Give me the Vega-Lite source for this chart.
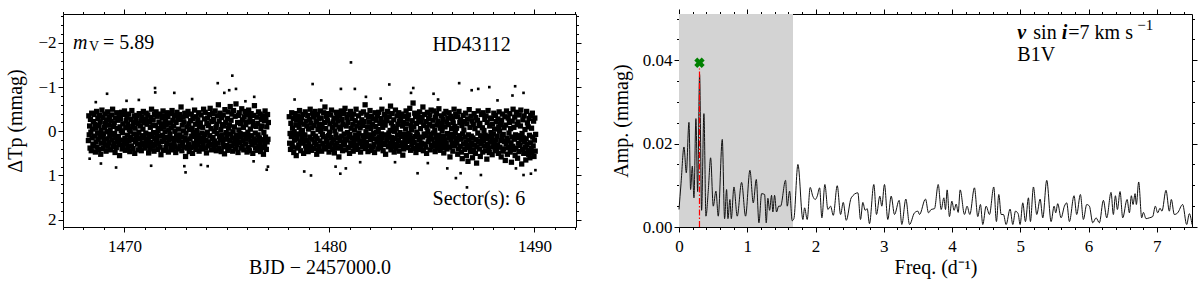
{
"$schema": "https://vega.github.io/schema/vega-lite/v6.json",
"padding": {"left": 5, "top": 6, "right": 4, "bottom": 5},
"bounds": "flush",
"spacing": 103,
"config": {
  "view": {"stroke": "black", "strokeWidth": 1},
  "axis": {"domain": false, "grid": false, "labelFont": "Liberation Serif", "labelFontSize": 17, "labelColor": "black", "tickColor": "black", "tickWidth": 1, "titleFont": "Liberation Serif", "titleFontSize": 20, "titleFontWeight": "normal", "titleColor": "black", "labelPadding": 2, "labelFlush": false, "labelOverlap": false},
  "text": {"font": "Liberation Serif", "color": "black"}
},
"hconcat": [
{
  "width": 513, "height": 213,
  "layer": [
    {
      "data": {"values": [
{"t":1468.24,"m":0.21},{"t":1468.26,"m":-0.35},{"t":1468.28,"m":0.08},
{"t":1468.3,"m":-0.12},{"t":1468.32,"m":0.38},{"t":1468.34,"m":-0.27},{"t":1468.36,"m":0.02},{"t":1468.38,"m":0.44},
{"t":1468.4,"m":-0.41},{"t":1468.42,"m":0.15},{"t":1468.44,"m":-0.05},{"t":1468.46,"m":0.29},{"t":1468.48,"m":-0.22},
{"t":1468.5,"m":0.33},{"t":1468.52,"m":-0.38},{"t":1468.54,"m":0.11},{"t":1468.56,"m":-0.16},{"t":1468.58,"m":0.47},
{"t":1468.6,"m":-0.07},{"t":1468.62,"m":0.24},{"t":1468.64,"m":-0.45},{"t":1468.66,"m":0.36},{"t":1468.68,"m":0.04},
{"t":1468.7,"m":-0.29},{"t":1468.72,"m":0.18},{"t":1468.74,"m":0.41},{"t":1468.76,"m":-0.13},{"t":1468.78,"m":-0.36},
{"t":1468.8,"m":0.09},{"t":1468.82,"m":-0.21},{"t":1468.84,"m":0.52},{"t":1468.86,"m":-0.02},{"t":1468.88,"m":0.27},
{"t":1468.9,"m":-0.48},{"t":1468.92,"m":0.13},{"t":1468.94,"m":-0.31},{"t":1468.96,"m":0.39},{"t":1468.98,"m":0.06},
{"t":1469.0,"m":0.22},{"t":1469.02,"m":-0.09},{"t":1469.04,"m":-0.39},{"t":1469.06,"m":0.31},{"t":1469.08,"m":-0.18},
{"t":1469.1,"m":0.45},{"t":1469.12,"m":-0.26},{"t":1469.14,"m":0.01},{"t":1469.16,"m":0.17},{"t":1469.18,"m":-0.44},
{"t":1469.2,"m":0.34},{"t":1469.22,"m":-0.14},{"t":1469.24,"m":0.26},{"t":1469.26,"m":-0.33},{"t":1469.28,"m":0.1},
{"t":1469.3,"m":-0.03},{"t":1469.32,"m":0.42},{"t":1469.34,"m":-0.23},{"t":1469.36,"m":0.07},{"t":1469.38,"m":-0.37},
{"t":1469.4,"m":0.19},{"t":1469.42,"m":-0.5},{"t":1469.44,"m":0.35},{"t":1469.46,"m":-0.11},{"t":1469.48,"m":0.28},
{"t":1469.5,"m":-0.19},{"t":1469.52,"m":0.05},{"t":1469.54,"m":0.48},{"t":1469.56,"m":-0.3},{"t":1469.58,"m":0.14},
{"t":1469.6,"m":0.37},{"t":1469.62,"m":-0.42},{"t":1469.64,"m":-0.06},{"t":1469.66,"m":0.23},{"t":1469.68,"m":-0.25},
{"t":1469.7,"m":0.12},{"t":1469.72,"m":0.3},{"t":1469.74,"m":-0.34},{"t":1469.76,"m":0.55},{"t":1469.78,"m":-0.1},
{"t":1469.8,"m":-0.28},{"t":1469.82,"m":0.2},{"t":1469.84,"m":-0.01},{"t":1469.86,"m":-0.43},{"t":1469.88,"m":0.4},
{"t":1469.9,"m":0.03},{"t":1469.92,"m":-0.17},{"t":1469.94,"m":0.32},{"t":1469.96,"m":-0.38},{"t":1469.98,"m":0.25},
{"t":1470.0,"m":-0.46},{"t":1470.02,"m":0.16},{"t":1470.04,"m":0.43},{"t":1470.06,"m":-0.08},{"t":1470.08,"m":-0.24},
{"t":1470.1,"m":0.28},{"t":1470.12,"m":-0.32},{"t":1470.14,"m":0.09},{"t":1470.16,"m":-0.15},{"t":1470.18,"m":0.36},
{"t":1470.2,"m":-0.39},{"t":1470.22,"m":0.21},{"t":1470.24,"m":-0.04},{"t":1470.26,"m":0.46},{"t":1470.28,"m":0.0},
{"t":1470.3,"m":0.13},{"t":1470.32,"m":-0.27},{"t":1470.34,"m":0.33},{"t":1470.36,"m":-0.47},{"t":1470.38,"m":0.19},
{"t":1470.4,"m":-0.11},{"t":1470.42,"m":0.39},{"t":1470.44,"m":-0.2},{"t":1470.46,"m":0.06},{"t":1470.48,"m":-0.35},
{"t":1470.5,"m":0.5},{"t":1470.52,"m":-0.07},{"t":1470.54,"m":0.24},{"t":1470.56,"m":-0.29},{"t":1470.58,"m":0.15},
{"t":1470.6,"m":-0.36},{"t":1470.62,"m":0.08},{"t":1470.64,"m":0.29},{"t":1470.66,"m":-0.18},{"t":1470.68,"m":0.42},
{"t":1470.7,"m":0.02},{"t":1470.72,"m":-0.4},{"t":1470.74,"m":0.17},{"t":1470.76,"m":0.35},{"t":1470.78,"m":-0.12},
{"t":1470.8,"m":-0.23},{"t":1470.82,"m":0.44},{"t":1470.84,"m":-0.33},{"t":1470.86,"m":0.1},{"t":1470.88,"m":0.26},
{"t":1470.9,"m":-0.05},{"t":1470.92,"m":-0.45},{"t":1470.94,"m":0.31},{"t":1470.96,"m":0.14},{"t":1470.98,"m":-0.19},
{"t":1471.0,"m":0.38},{"t":1471.02,"m":-0.28},{"t":1471.04,"m":0.04},{"t":1471.06,"m":-0.41},{"t":1471.08,"m":0.22},
{"t":1471.1,"m":-0.16},{"t":1471.12,"m":0.32},{"t":1471.14,"m":-0.37},{"t":1471.16,"m":0.18},{"t":1471.18,"m":0.49},
{"t":1471.2,"m":0.07},{"t":1471.22,"m":-0.22},{"t":1471.24,"m":0.4},{"t":1471.26,"m":-0.09},{"t":1471.28,"m":-0.31},
{"t":1471.3,"m":0.25},{"t":1471.32,"m":-0.5},{"t":1471.34,"m":0.12},{"t":1471.36,"m":0.34},{"t":1471.38,"m":-0.14},
{"t":1471.4,"m":-0.26},{"t":1471.42,"m":0.03},{"t":1471.44,"m":0.45},{"t":1471.46,"m":-0.38},{"t":1471.48,"m":0.16},
{"t":1471.5,"m":0.3},{"t":1471.52,"m":-0.13},{"t":1471.54,"m":-0.44},{"t":1471.56,"m":0.21},{"t":1471.58,"m":0.05},
{"t":1471.6,"m":-0.34},{"t":1471.62,"m":0.41},{"t":1471.64,"m":-0.02},{"t":1471.66,"m":0.27},{"t":1471.68,"m":-0.21},
{"t":1471.7,"m":0.11},{"t":1471.72,"m":-0.39},{"t":1471.74,"m":0.36},{"t":1471.76,"m":-0.06},{"t":1471.78,"m":0.53},
{"t":1471.8,"m":-0.17},{"t":1471.82,"m":0.23},{"t":1471.84,"m":-0.3},{"t":1471.86,"m":0.09},{"t":1471.88,"m":-0.46},
{"t":1471.9,"m":0.43},{"t":1471.92,"m":-0.1},{"t":1471.94,"m":0.19},{"t":1471.96,"m":-0.35},{"t":1471.98,"m":0.01},
{"t":1472.0,"m":-0.24},{"t":1472.02,"m":0.37},{"t":1472.04,"m":-0.15},{"t":1472.06,"m":0.28},{"t":1472.08,"m":-0.42},
{"t":1472.1,"m":0.14},{"t":1472.12,"m":-0.33},{"t":1472.14,"m":0.47},{"t":1472.16,"m":-0.03},{"t":1472.18,"m":0.2},
{"t":1472.2,"m":-0.4},{"t":1472.22,"m":0.06},{"t":1472.24,"m":-0.19},{"t":1472.26,"m":0.39},{"t":1472.28,"m":-0.08},
{"t":1472.3,"m":0.31},{"t":1472.32,"m":-0.47},{"t":1472.34,"m":0.16},{"t":1472.36,"m":-0.25},{"t":1472.38,"m":0.42},
{"t":1472.4,"m":-0.12},{"t":1472.42,"m":0.26},{"t":1472.44,"m":-0.36},{"t":1472.46,"m":0.0},{"t":1472.48,"m":0.35},
{"t":1472.5,"m":0.48},{"t":1472.52,"m":-0.2},{"t":1472.54,"m":0.1},{"t":1472.56,"m":-0.43},{"t":1472.58,"m":0.18},
{"t":1472.6,"m":-0.3},{"t":1472.62,"m":0.4},{"t":1472.64,"m":-0.05},{"t":1472.66,"m":0.22},{"t":1472.68,"m":-0.38},
{"t":1472.7,"m":0.08},{"t":1472.72,"m":-0.27},{"t":1472.74,"m":0.33},{"t":1472.76,"m":-0.55},{"t":1472.78,"m":0.13},
{"t":1472.8,"m":0.44},{"t":1472.82,"m":-0.14},{"t":1472.84,"m":0.25},{"t":1472.86,"m":-0.32},{"t":1472.88,"m":-0.01},
{"t":1472.9,"m":-0.21},{"t":1472.92,"m":0.36},{"t":1472.94,"m":-0.41},{"t":1472.96,"m":0.15},{"t":1472.98,"m":0.57},
{"t":1473.0,"m":0.04},{"t":1473.02,"m":-0.35},{"t":1473.04,"m":0.2},{"t":1473.06,"m":-0.1},{"t":1473.08,"m":0.38},
{"t":1473.1,"m":-0.45},{"t":1473.12,"m":0.29},{"t":1473.14,"m":-0.17},{"t":1473.16,"m":0.46},{"t":1473.18,"m":-0.04},
{"t":1473.2,"m":0.17},{"t":1473.22,"m":-0.24},{"t":1473.24,"m":0.37},{"t":1473.26,"m":-0.39},{"t":1473.28,"m":0.11},
{"t":1473.3,"m":-0.07},{"t":1473.32,"m":0.5},{"t":1473.34,"m":-0.29},{"t":1473.36,"m":0.03},{"t":1473.38,"m":0.27},
{"t":1473.4,"m":0.34},{"t":1473.42,"m":-0.48},{"t":1473.44,"m":0.12},{"t":1473.46,"m":-0.16},{"t":1473.48,"m":0.41},
{"t":1473.5,"m":-0.33},{"t":1473.52,"m":0.19},{"t":1473.54,"m":-0.02},{"t":1473.56,"m":0.3},{"t":1473.58,"m":-0.26},
{"t":1473.6,"m":0.09},{"t":1473.62,"m":-0.42},{"t":1473.64,"m":0.45},{"t":1473.66,"m":-0.11},{"t":1473.68,"m":0.23},
{"t":1473.7,"m":-0.19},{"t":1473.72,"m":0.35},{"t":1473.74,"m":-0.37},{"t":1473.76,"m":0.16},{"t":1473.78,"m":0.04},
{"t":1473.8,"m":0.4},{"t":1473.82,"m":-0.09},{"t":1473.84,"m":0.28},{"t":1473.86,"m":-0.5},{"t":1473.88,"m":0.14},
{"t":1473.9,"m":-0.28},{"t":1473.92,"m":0.07},{"t":1473.94,"m":-0.43},{"t":1473.96,"m":0.38},{"t":1473.98,"m":0.21},
{"t":1474.0,"m":0.49},{"t":1474.02,"m":-0.18},{"t":1474.04,"m":0.02},{"t":1474.06,"m":-0.3},{"t":1474.08,"m":0.33},
{"t":1474.1,"m":-0.13},{"t":1474.12,"m":0.24},{"t":1474.14,"m":-0.38},{"t":1474.16,"m":0.1},{"t":1474.18,"m":-0.52},
{"t":1474.2,"m":0.3},{"t":1474.22,"m":-0.06},{"t":1474.24,"m":0.42},{"t":1474.26,"m":-0.22},{"t":1474.28,"m":0.17},
{"t":1474.3,"m":-0.4},{"t":1474.32,"m":0.14},{"t":1474.34,"m":-0.27},{"t":1474.36,"m":0.36},{"t":1474.38,"m":0.0},
{"t":1474.4,"m":0.22},{"t":1474.42,"m":-0.46},{"t":1474.44,"m":0.31},{"t":1474.46,"m":-0.08},{"t":1474.48,"m":0.44},
{"t":1474.5,"m":-0.16},{"t":1474.52,"m":0.05},{"t":1474.54,"m":-0.35},{"t":1474.56,"m":0.27},{"t":1474.58,"m":-0.6},
{"t":1474.6,"m":0.39},{"t":1474.62,"m":-0.23},{"t":1474.64,"m":0.12},{"t":1474.66,"m":-0.41},{"t":1474.68,"m":0.19},
{"t":1474.7,"m":-0.04},{"t":1474.72,"m":0.46},{"t":1474.74,"m":-0.31},{"t":1474.76,"m":0.08},{"t":1474.78,"m":-0.15},
{"t":1474.8,"m":0.26},{"t":1474.82,"m":-0.37},{"t":1474.84,"m":0.35},{"t":1474.86,"m":-0.12},{"t":1474.88,"m":0.51},
{"t":1474.9,"m":-0.49},{"t":1474.92,"m":0.18},{"t":1474.94,"m":-0.2},{"t":1474.96,"m":0.03},{"t":1474.98,"m":0.32},
{"t":1475.0,"m":0.11},{"t":1475.02,"m":-0.29},{"t":1475.04,"m":0.43},{"t":1475.06,"m":-0.44},{"t":1475.08,"m":-0.07},
{"t":1475.1,"m":0.37},{"t":1475.12,"m":-0.14},{"t":1475.14,"m":0.21},{"t":1475.16,"m":-0.56},{"t":1475.18,"m":0.06},
{"t":1475.2,"m":-0.25},{"t":1475.22,"m":0.33},{"t":1475.24,"m":-0.39},{"t":1475.26,"m":0.15},{"t":1475.28,"m":0.45},
{"t":1475.3,"m":0.01},{"t":1475.32,"m":-0.47},{"t":1475.34,"m":0.28},{"t":1475.36,"m":-0.1},{"t":1475.38,"m":0.2},
{"t":1475.4,"m":-0.34},{"t":1475.42,"m":0.4},{"t":1475.44,"m":-0.62},{"t":1475.46,"m":0.09},{"t":1475.48,"m":0.3},
{"t":1475.5,"m":0.16},{"t":1475.52,"m":-0.2},{"t":1475.54,"m":0.48},{"t":1475.56,"m":-0.36},{"t":1475.58,"m":-0.03},
{"t":1475.6,"m":-0.42},{"t":1475.62,"m":0.25},{"t":1475.64,"m":0.05},{"t":1475.66,"m":-0.17},{"t":1475.68,"m":0.38},
{"t":1475.7,"m":0.13},{"t":1475.72,"m":-0.51},{"t":1475.74,"m":0.34},{"t":1475.76,"m":-0.26},{"t":1475.78,"m":0.22},
{"t":1475.8,"m":-0.09},{"t":1475.82,"m":0.42},{"t":1475.84,"m":-0.33},{"t":1475.86,"m":0.07},{"t":1475.88,"m":-0.45},
{"t":1475.9,"m":0.29},{"t":1475.92,"m":-0.15},{"t":1475.94,"m":0.18},{"t":1475.96,"m":-0.38},{"t":1475.98,"m":0.47},
{"t":1476.0,"m":-0.21},{"t":1476.02,"m":0.02},{"t":1476.04,"m":0.36},{"t":1476.06,"m":-0.48},{"t":1476.08,"m":0.12},
{"t":1476.1,"m":0.44},{"t":1476.12,"m":-0.3},{"t":1476.14,"m":-0.05},{"t":1476.16,"m":0.23},{"t":1476.18,"m":-0.4},
{"t":1476.2,"m":0.1},{"t":1476.22,"m":0.31},{"t":1476.24,"m":-0.22},{"t":1476.26,"m":0.5},{"t":1476.28,"m":-0.13},
{"t":1476.3,"m":-0.36},{"t":1476.32,"m":0.17},{"t":1476.34,"m":-0.58},{"t":1476.36,"m":0.27},{"t":1476.38,"m":0.04},
{"t":1476.4,"m":0.38},{"t":1476.42,"m":-0.11},{"t":1476.44,"m":0.2},{"t":1476.46,"m":-0.32},{"t":1476.48,"m":0.43},
{"t":1476.5,"m":-0.18},{"t":1476.52,"m":0.08},{"t":1476.54,"m":-0.44},{"t":1476.56,"m":0.34},{"t":1476.58,"m":0.15},
{"t":1476.6,"m":0.25},{"t":1476.62,"m":-0.39},{"t":1476.64,"m":0.46},{"t":1476.66,"m":-0.06},{"t":1476.68,"m":-0.27},
{"t":1476.7,"m":-0.12},{"t":1476.72,"m":0.37},{"t":1476.74,"m":-0.35},{"t":1476.76,"m":0.19},{"t":1476.78,"m":0.52},
{"t":1476.8,"m":0.03},{"t":1476.82,"m":-0.24},{"t":1476.84,"m":0.3},{"t":1476.86,"m":-0.46},{"t":1476.88,"m":0.13},
{"t":1476.9,"m":-0.31},{"t":1476.92,"m":0.41},{"t":1476.94,"m":-0.1},{"t":1476.96,"m":0.24},{"t":1476.98,"m":-0.38},
{"t":1477.0,"m":0.18},{"t":1477.02,"m":-0.2},
{"t":1478.04,"m":-0.33},{"t":1478.06,"m":0.27},{"t":1478.08,"m":0.05},
{"t":1478.1,"m":0.41},{"t":1478.12,"m":-0.18},{"t":1478.14,"m":0.12},{"t":1478.16,"m":-0.42},{"t":1478.18,"m":0.3},
{"t":1478.2,"m":-0.07},{"t":1478.22,"m":0.36},{"t":1478.24,"m":-0.29},{"t":1478.26,"m":0.48},{"t":1478.28,"m":0.01},
{"t":1478.3,"m":0.2},{"t":1478.32,"m":-0.4},{"t":1478.34,"m":0.09},{"t":1478.36,"m":-0.14},{"t":1478.38,"m":0.55},
{"t":1478.4,"m":-0.25},{"t":1478.42,"m":0.16},{"t":1478.44,"m":0.38},{"t":1478.46,"m":-0.35},{"t":1478.48,"m":0.06},
{"t":1478.5,"m":0.32},{"t":1478.52,"m":-0.09},{"t":1478.54,"m":-0.47},{"t":1478.56,"m":0.24},{"t":1478.58,"m":-0.2},
{"t":1478.6,"m":0.44},{"t":1478.62,"m":0.03},{"t":1478.64,"m":-0.31},{"t":1478.66,"m":0.14},{"t":1478.68,"m":-0.02},
{"t":1478.7,"m":-0.38},{"t":1478.72,"m":0.27},{"t":1478.74,"m":0.5},{"t":1478.76,"m":-0.16},{"t":1478.78,"m":0.19},
{"t":1478.8,"m":0.08},{"t":1478.82,"m":-0.44},{"t":1478.84,"m":0.33},{"t":1478.86,"m":-0.23},{"t":1478.88,"m":0.4},
{"t":1478.9,"m":-0.12},{"t":1478.92,"m":0.21},{"t":1478.94,"m":-0.36},{"t":1478.96,"m":0.46},{"t":1478.98,"m":-0.05},
{"t":1479.0,"m":0.29},{"t":1479.02,"m":-0.27},{"t":1479.04,"m":0.13},{"t":1479.06,"m":-0.5},{"t":1479.08,"m":0.35},
{"t":1479.1,"m":-0.19},{"t":1479.12,"m":0.43},{"t":1479.14,"m":-0.08},{"t":1479.16,"m":0.18},{"t":1479.18,"m":-0.41},
{"t":1479.2,"m":0.05},{"t":1479.22,"m":-0.32},{"t":1479.24,"m":0.39},{"t":1479.26,"m":-0.13},{"t":1479.28,"m":0.25},
{"t":1479.3,"m":-0.45},{"t":1479.32,"m":0.11},{"t":1479.34,"m":0.3},{"t":1479.36,"m":-0.22},{"t":1479.38,"m":0.52},
{"t":1479.4,"m":0.16},{"t":1479.42,"m":-0.38},{"t":1479.44,"m":-0.04},{"t":1479.46,"m":0.42},{"t":1479.48,"m":-0.28},
{"t":1479.5,"m":0.34},{"t":1479.52,"m":-0.15},{"t":1479.54,"m":0.22},{"t":1479.56,"m":-0.46},{"t":1479.58,"m":0.0},
{"t":1479.6,"m":-0.3},{"t":1479.62,"m":0.45},{"t":1479.64,"m":-0.11},{"t":1479.66,"m":0.07},{"t":1479.68,"m":0.28},
{"t":1479.7,"m":0.12},{"t":1479.72,"m":-0.42},{"t":1479.74,"m":0.37},{"t":1479.76,"m":-0.2},{"t":1479.78,"m":-0.55},
{"t":1479.8,"m":0.4},{"t":1479.82,"m":-0.06},{"t":1479.84,"m":0.17},{"t":1479.86,"m":-0.34},{"t":1479.88,"m":0.23},
{"t":1479.9,"m":-0.24},{"t":1479.92,"m":0.31},{"t":1479.94,"m":-0.4},{"t":1479.96,"m":0.1},{"t":1479.98,"m":0.47},
{"t":1480.0,"m":0.02},{"t":1480.02,"m":-0.17},{"t":1480.04,"m":0.35},{"t":1480.06,"m":-0.37},{"t":1480.08,"m":0.14},
{"t":1480.1,"m":-0.48},{"t":1480.12,"m":0.26},{"t":1480.14,"m":-0.09},{"t":1480.16,"m":0.41},{"t":1480.18,"m":-0.21},
{"t":1480.2,"m":0.19},{"t":1480.22,"m":-0.3},{"t":1480.24,"m":0.49},{"t":1480.26,"m":-0.01},{"t":1480.28,"m":0.32},
{"t":1480.3,"m":-0.14},{"t":1480.32,"m":0.08},{"t":1480.34,"m":-0.43},{"t":1480.36,"m":0.27},{"t":1480.38,"m":-0.33},
{"t":1480.4,"m":0.38},{"t":1480.42,"m":-0.23},{"t":1480.44,"m":0.15},{"t":1480.46,"m":0.58},{"t":1480.48,"m":-0.1},
{"t":1480.5,"m":-0.36},{"t":1480.52,"m":0.21},{"t":1480.54,"m":-0.05},{"t":1480.56,"m":0.34},{"t":1480.58,"m":-0.46},
{"t":1480.6,"m":0.11},{"t":1480.62,"m":-0.27},{"t":1480.64,"m":0.44},{"t":1480.66,"m":-0.15},{"t":1480.68,"m":0.24},
{"t":1480.7,"m":-0.4},{"t":1480.72,"m":0.06},{"t":1480.74,"m":0.3},{"t":1480.76,"m":-0.52},{"t":1480.78,"m":0.17},
{"t":1480.8,"m":0.42},{"t":1480.82,"m":-0.12},{"t":1480.84,"m":0.2},{"t":1480.86,"m":-0.31},{"t":1480.88,"m":0.03},
{"t":1480.9,"m":-0.2},{"t":1480.92,"m":0.37},{"t":1480.94,"m":-0.38},{"t":1480.96,"m":0.13},{"t":1480.98,"m":0.5},
{"t":1481.0,"m":0.07},{"t":1481.02,"m":-0.45},{"t":1481.04,"m":0.26},{"t":1481.06,"m":-0.07},{"t":1481.08,"m":0.33},
{"t":1481.1,"m":-0.29},{"t":1481.12,"m":0.15},{"t":1481.14,"m":-0.16},{"t":1481.16,"m":0.45},{"t":1481.18,"m":-0.39},
{"t":1481.2,"m":0.23},{"t":1481.22,"m":-0.03},{"t":1481.24,"m":0.36},{"t":1481.26,"m":-0.24},{"t":1481.28,"m":0.09},
{"t":1481.3,"m":-0.5},{"t":1481.32,"m":0.31},{"t":1481.34,"m":-0.12},{"t":1481.36,"m":0.18},{"t":1481.38,"m":0.41},
{"t":1481.4,"m":0.14},{"t":1481.42,"m":-0.35},{"t":1481.44,"m":0.04},{"t":1481.46,"m":-0.19},{"t":1481.48,"m":0.27},
{"t":1481.5,"m":-0.08},{"t":1481.52,"m":0.47},{"t":1481.54,"m":-0.41},{"t":1481.56,"m":0.22},{"t":1481.58,"m":-0.26},
{"t":1481.6,"m":0.35},{"t":1481.62,"m":-0.13},{"t":1481.64,"m":0.1},{"t":1481.66,"m":-0.44},{"t":1481.68,"m":0.16},
{"t":1481.7,"m":-0.22},{"t":1481.72,"m":0.29},{"t":1481.74,"m":-0.6},{"t":1481.76,"m":0.39},{"t":1481.78,"m":0.01},
{"t":1481.8,"m":0.25},{"t":1481.82,"m":-0.37},{"t":1481.84,"m":0.12},{"t":1481.86,"m":-0.1},{"t":1481.88,"m":0.46},
{"t":1481.9,"m":-0.32},{"t":1481.92,"m":0.08},{"t":1481.94,"m":0.33},{"t":1481.96,"m":-0.21},{"t":1481.98,"m":-0.47},
{"t":1482.0,"m":0.19},{"t":1482.02,"m":-0.06},{"t":1482.04,"m":0.43},{"t":1482.06,"m":-0.34},{"t":1482.08,"m":0.1},
{"t":1482.1,"m":-0.15},{"t":1482.12,"m":0.36},{"t":1482.14,"m":-0.28},{"t":1482.16,"m":0.05},{"t":1482.18,"m":0.3},
{"t":1482.2,"m":0.48},{"t":1482.22,"m":-0.42},{"t":1482.24,"m":0.17},{"t":1482.26,"m":-0.11},{"t":1482.28,"m":-0.25},
{"t":1482.3,"m":0.02},{"t":1482.32,"m":0.24},{"t":1482.34,"m":-0.36},{"t":1482.36,"m":0.4},{"t":1482.38,"m":-0.04},
{"t":1482.4,"m":-0.43},{"t":1482.42,"m":0.13},{"t":1482.44,"m":0.32},{"t":1482.46,"m":-0.18},{"t":1482.48,"m":0.21},
{"t":1482.5,"m":0.37},{"t":1482.52,"m":-0.29},{"t":1482.54,"m":0.06},{"t":1482.56,"m":-0.5},{"t":1482.58,"m":0.15},
{"t":1482.6,"m":-0.09},{"t":1482.62,"m":0.44},{"t":1482.64,"m":-0.2},{"t":1482.66,"m":0.26},{"t":1482.68,"m":-0.38},
{"t":1482.7,"m":0.3},{"t":1482.72,"m":-0.14},{"t":1482.74,"m":0.52},{"t":1482.76,"m":-0.31},{"t":1482.78,"m":0.08},
{"t":1482.8,"m":-0.24},{"t":1482.82,"m":0.19},{"t":1482.84,"m":-0.45},{"t":1482.86,"m":0.11},{"t":1482.88,"m":0.35},
{"t":1482.9,"m":0.04},{"t":1482.92,"m":-0.33},{"t":1482.94,"m":0.28},{"t":1482.96,"m":-0.02},{"t":1482.98,"m":-0.57},
{"t":1483.0,"m":0.42},{"t":1483.02,"m":-0.19},{"t":1483.04,"m":0.14},{"t":1483.06,"m":-0.4},{"t":1483.08,"m":0.23},
{"t":1483.1,"m":-0.11},{"t":1483.12,"m":0.34},{"t":1483.14,"m":-0.26},{"t":1483.16,"m":0.47},{"t":1483.18,"m":0.0},
{"t":1483.2,"m":0.16},{"t":1483.22,"m":-0.48},{"t":1483.24,"m":0.38},{"t":1483.26,"m":-0.07},{"t":1483.28,"m":0.29},
{"t":1483.3,"m":-0.35},{"t":1483.32,"m":0.09},{"t":1483.34,"m":-0.16},{"t":1483.36,"m":0.21},{"t":1483.38,"m":-0.42},
{"t":1483.4,"m":0.45},{"t":1483.42,"m":-0.23},{"t":1483.44,"m":0.03},{"t":1483.46,"m":0.33},{"t":1483.48,"m":-0.3},
{"t":1483.5,"m":0.12},{"t":1483.52,"m":-0.39},{"t":1483.54,"m":0.26},{"t":1483.56,"m":-0.12},{"t":1483.58,"m":0.54},
{"t":1483.6,"m":-0.2},{"t":1483.62,"m":0.4},{"t":1483.64,"m":-0.34},{"t":1483.66,"m":0.07},{"t":1483.68,"m":0.18},
{"t":1483.7,"m":0.31},{"t":1483.72,"m":-0.05},{"t":1483.74,"m":-0.46},{"t":1483.76,"m":0.23},{"t":1483.78,"m":-0.17},
{"t":1483.8,"m":-0.28},{"t":1483.82,"m":0.14},{"t":1483.84,"m":0.37},{"t":1483.86,"m":-0.37},{"t":1483.88,"m":0.05},
{"t":1483.9,"m":0.22},{"t":1483.92,"m":-0.52},{"t":1483.94,"m":0.1},{"t":1483.96,"m":0.43},{"t":1483.98,"m":-0.13},
{"t":1484.0,"m":-0.03},{"t":1484.02,"m":0.3},{"t":1484.04,"m":-0.24},{"t":1484.06,"m":0.16},{"t":1484.08,"m":-0.64},
{"t":1484.1,"m":0.39},{"t":1484.12,"m":-0.1},{"t":1484.14,"m":0.25},{"t":1484.16,"m":-0.41},{"t":1484.18,"m":0.12},
{"t":1484.2,"m":-0.33},{"t":1484.22,"m":0.48},{"t":1484.24,"m":-0.18},{"t":1484.26,"m":0.02},{"t":1484.28,"m":0.32},
{"t":1484.3,"m":0.08},{"t":1484.32,"m":-0.36},{"t":1484.34,"m":0.41},{"t":1484.36,"m":-0.27},{"t":1484.38,"m":0.2},
{"t":1484.4,"m":-0.44},{"t":1484.42,"m":0.17},{"t":1484.44,"m":-0.06},{"t":1484.46,"m":0.35},{"t":1484.48,"m":-0.21},
{"t":1484.5,"m":0.27},{"t":1484.52,"m":-0.31},{"t":1484.54,"m":0.13},{"t":1484.56,"m":-0.55},{"t":1484.58,"m":0.44},
{"t":1484.6,"m":-0.13},{"t":1484.62,"m":0.06},{"t":1484.64,"m":-0.38},{"t":1484.66,"m":0.29},{"t":1484.68,"m":0.1},
{"t":1484.7,"m":0.36},{"t":1484.72,"m":-0.22},{"t":1484.74,"m":0.5},{"t":1484.76,"m":-0.09},{"t":1484.78,"m":-0.43},
{"t":1484.8,"m":0.01},{"t":1484.82,"m":0.24},{"t":1484.84,"m":-0.29},{"t":1484.86,"m":0.15},{"t":1484.88,"m":-0.16},
{"t":1484.9,"m":-0.37},{"t":1484.92,"m":0.42},{"t":1484.94,"m":0.07},{"t":1484.96,"m":-0.48},{"t":1484.98,"m":0.31},
{"t":1485.0,"m":0.18},{"t":1485.02,"m":-0.12},{"t":1485.04,"m":0.34},{"t":1485.06,"m":-0.25},{"t":1485.08,"m":0.04},
{"t":1485.1,"m":-0.46},{"t":1485.12,"m":0.28},{"t":1485.14,"m":-0.02},{"t":1485.16,"m":0.46},{"t":1485.18,"m":-0.32},
{"t":1485.2,"m":0.13},{"t":1485.22,"m":-0.4},{"t":1485.24,"m":0.21},{"t":1485.26,"m":-0.14},{"t":1485.28,"m":0.38},
{"t":1485.3,"m":-0.23},{"t":1485.32,"m":0.09},{"t":1485.34,"m":-0.51},{"t":1485.36,"m":0.32},{"t":1485.38,"m":0.16},
{"t":1485.4,"m":0.43},{"t":1485.42,"m":-0.07},{"t":1485.44,"m":0.25},{"t":1485.46,"m":-0.35},{"t":1485.48,"m":-0.18},
{"t":1485.5,"m":-0.01},{"t":1485.52,"m":0.37},{"t":1485.54,"m":-0.27},{"t":1485.56,"m":0.11},{"t":1485.58,"m":0.49},
{"t":1485.6,"m":-0.39},{"t":1485.62,"m":0.2},{"t":1485.64,"m":-0.1},{"t":1485.66,"m":0.3},{"t":1485.68,"m":-0.45},
{"t":1485.7,"m":0.26},{"t":1485.72,"m":-0.21},{"t":1485.74,"m":0.4},{"t":1485.76,"m":0.05},{"t":1485.78,"m":-0.3},
{"t":1485.8,"m":-0.15},{"t":1485.82,"m":0.14},{"t":1485.84,"m":-0.42},{"t":1485.86,"m":0.36},{"t":1485.88,"m":0.58},
{"t":1485.9,"m":0.07},{"t":1485.92,"m":-0.34},{"t":1485.94,"m":0.19},{"t":1485.96,"m":-0.06},{"t":1485.98,"m":0.28},
{"t":1486.0,"m":-0.28},{"t":1486.02,"m":0.45},{"t":1486.04,"m":-0.19},{"t":1486.06,"m":0.12},{"t":1486.08,"m":-0.5},
{"t":1486.1,"m":0.33},{"t":1486.12,"m":-0.11},{"t":1486.14,"m":0.03},{"t":1486.16,"m":-0.38},{"t":1486.18,"m":0.22},
{"t":1486.2,"m":-0.07},{"t":1486.22,"m":0.27},{"t":1486.24,"m":-0.33},{"t":1486.26,"m":0.52},{"t":1486.28,"m":0.15},
{"t":1486.3,"m":0.4},{"t":1486.32,"m":-0.45},{"t":1486.34,"m":0.1},{"t":1486.36,"m":-0.2},{"t":1486.38,"m":0.34},
{"t":1486.4,"m":-0.26},{"t":1486.42,"m":0.18},{"t":1486.44,"m":0.47},{"t":1486.46,"m":-0.13},{"t":1486.48,"m":0.62},
{"t":1486.5,"m":0.06},{"t":1486.52,"m":-0.36},{"t":1486.54,"m":0.29},{"t":1486.56,"m":-0.03},{"t":1486.58,"m":-0.22},
{"t":1486.6,"m":0.41},{"t":1486.62,"m":0.13},{"t":1486.64,"m":-0.41},{"t":1486.66,"m":0.24},{"t":1486.68,"m":0.55},
{"t":1486.7,"m":-0.17},{"t":1486.72,"m":0.32},{"t":1486.74,"m":-0.28},{"t":1486.76,"m":0.68},{"t":1486.78,"m":0.08},
{"t":1486.8,"m":0.2},{"t":1486.82,"m":-0.49},{"t":1486.84,"m":0.37},{"t":1486.86,"m":-0.09},{"t":1486.88,"m":0.46},
{"t":1486.9,"m":-0.34},{"t":1486.92,"m":0.11},{"t":1486.94,"m":0.26},{"t":1486.96,"m":-0.23},{"t":1486.98,"m":0.6},
{"t":1487.0,"m":0.15},{"t":1487.02,"m":-0.15},{"t":1487.04,"m":0.42},{"t":1487.06,"m":-0.4},{"t":1487.08,"m":0.31},
{"t":1487.1,"m":-0.06},{"t":1487.12,"m":0.5},{"t":1487.14,"m":-0.31},{"t":1487.16,"m":0.19},{"t":1487.18,"m":0.72},
{"t":1487.2,"m":0.35},{"t":1487.22,"m":-0.25},{"t":1487.24,"m":0.04},{"t":1487.26,"m":-0.46},{"t":1487.28,"m":0.23},
{"t":1487.3,"m":-0.13},{"t":1487.32,"m":0.4},{"t":1487.34,"m":-0.18},{"t":1487.36,"m":0.57},{"t":1487.38,"m":0.1},
{"t":1487.4,"m":0.28},{"t":1487.42,"m":-0.38},{"t":1487.44,"m":0.14},{"t":1487.46,"m":-0.08},{"t":1487.48,"m":0.47},
{"t":1487.5,"m":-0.42},{"t":1487.52,"m":0.22},{"t":1487.54,"m":-0.02},{"t":1487.56,"m":0.33},{"t":1487.58,"m":-0.27},
{"t":1487.6,"m":0.09},{"t":1487.62,"m":0.44},{"t":1487.64,"m":-0.35},{"t":1487.66,"m":0.17},{"t":1487.68,"m":0.63},
{"t":1487.7,"m":-0.2},{"t":1487.72,"m":0.3},{"t":1487.74,"m":-0.47},{"t":1487.76,"m":0.12},{"t":1487.78,"m":0.38},
{"t":1487.8,"m":0.48},{"t":1487.82,"m":-0.12},{"t":1487.84,"m":0.24},{"t":1487.86,"m":-0.3},{"t":1487.88,"m":0.03},
{"t":1487.9,"m":-0.29},{"t":1487.92,"m":0.16},{"t":1487.94,"m":0.53},{"t":1487.96,"m":-0.16},{"t":1487.98,"m":0.35},
{"t":1488.0,"m":0.06},{"t":1488.02,"m":-0.41},{"t":1488.04,"m":0.27},{"t":1488.06,"m":-0.05},{"t":1488.08,"m":0.44},
{"t":1488.1,"m":-0.36},{"t":1488.12,"m":0.2},{"t":1488.14,"m":-0.22},{"t":1488.16,"m":0.39},{"t":1488.18,"m":0.11},
{"t":1488.2,"m":0.31},{"t":1488.22,"m":-0.28},{"t":1488.24,"m":0.5},{"t":1488.26,"m":-0.1},{"t":1488.28,"m":-0.44},
{"t":1488.3,"m":0.0},{"t":1488.32,"m":0.36},{"t":1488.34,"m":-0.15},{"t":1488.36,"m":0.21},{"t":1488.38,"m":0.58},
{"t":1488.4,"m":-0.25},{"t":1488.42,"m":0.12},{"t":1488.44,"m":-0.39},{"t":1488.46,"m":0.45},{"t":1488.48,"m":0.07},
{"t":1488.5,"m":0.4},{"t":1488.52,"m":-0.08},{"t":1488.54,"m":0.23},{"t":1488.56,"m":-0.33},{"t":1488.58,"m":0.66},
{"t":1488.6,"m":-0.14},{"t":1488.62,"m":0.29},{"t":1488.64,"m":-0.46},{"t":1488.66,"m":0.16},{"t":1488.68,"m":0.52},
{"t":1488.7,"m":0.21},{"t":1488.72,"m":-0.3},{"t":1488.74,"m":0.37},{"t":1488.76,"m":0.04},{"t":1488.78,"m":-0.2},
{"t":1488.8,"m":-0.4},{"t":1488.82,"m":0.47},{"t":1488.84,"m":-0.06},{"t":1488.86,"m":0.26},{"t":1488.88,"m":0.7},
{"t":1488.9,"m":0.13},{"t":1488.92,"m":-0.23},{"t":1488.94,"m":0.34},{"t":1488.96,"m":-0.5},{"t":1488.98,"m":0.42},
{"t":1489.0,"m":-0.09},{"t":1489.02,"m":0.18},{"t":1489.04,"m":-0.32},{"t":1489.06,"m":0.55},{"t":1489.08,"m":0.08},
{"t":1489.1,"m":0.38},{"t":1489.12,"m":-0.43},{"t":1489.14,"m":0.14},{"t":1489.16,"m":-0.15},{"t":1489.18,"m":0.61},
{"t":1489.2,"m":-0.21},{"t":1489.22,"m":0.27},{"t":1489.24,"m":0.46},{"t":1489.26,"m":-0.37},{"t":1489.28,"m":0.1},
{"t":1489.3,"m":0.32},{"t":1489.32,"m":-0.12},{"t":1489.34,"m":-0.48},{"t":1489.36,"m":0.2},{"t":1489.38,"m":0.74},
{"t":1489.4,"m":0.05},{"t":1489.42,"m":0.41},{"t":1489.44,"m":-0.26},{"t":1489.46,"m":0.15},{"t":1489.48,"m":0.5},
{"t":1489.5,"m":-0.35},{"t":1489.52,"m":0.24},{"t":1489.54,"m":-0.04},{"t":1489.56,"m":0.36},{"t":1489.58,"m":0.65},
{"t":1489.6,"m":0.17},{"t":1489.62,"m":-0.45},{"t":1489.64,"m":0.3},{"t":1489.66,"m":-0.19},{"t":1489.68,"m":0.43},
{"t":1489.7,"m":-0.1},{"t":1489.72,"m":0.52},{"t":1489.74,"m":-0.29},{"t":1489.76,"m":0.09},{"t":1489.78,"m":0.6},
{"t":1489.8,"m":0.26},{"t":1489.82,"m":-0.36},{"t":1489.84,"m":0.39},{"t":1489.86,"m":-0.07},{"t":1489.88,"m":0.48},
{"t":1489.9,"m":-0.41},{"t":1489.92,"m":0.13},{"t":1489.94,"m":0.33},{"t":1489.96,"m":-0.23},{"t":1489.98,"m":0.57},
{"t":1490.0,"m":0.2},{"t":1490.02,"m":-0.3},{"t":1490.04,"m":0.45},{"t":1490.06,"m":0.07}
      ]},
      "mark": {"type": "square", "size": 28, "color": "black", "opacity": 1},
      "encoding": {
        "x": {"field": "t", "type": "quantitative", "scale": {"domain": [1467.0, 1492.03], "nice": false, "zero": false},
          "axis": {"orient": "bottom", "values": [1467,1468,1469,1470,1471,1472,1473,1474,1475,1476,1477,1478,1479,1480,1481,1482,1483,1484,1485,1486,1487,1488,1489,1490,1491,1492], "format": "d", "labelExpr": "datum.value % 10 === 0 ? datum.label : ''", "tickSize": {"condition": {"test": "datum.value % 10 === 0", "value": 5}, "value": 2.5}, "labelPadding": 6, "title": "BJD − 2457000.0", "titlePadding": 3}},
        "y": {"field": "m", "type": "quantitative", "scale": {"domain": [-2.656, 2.167], "reverse": true, "nice": false, "zero": false},
          "axis": {"orient": "left", "values": [-2.6,-2.4,-2.2,-2,-1.8,-1.6,-1.4,-1.2,-1,-0.8,-0.6,-0.4,-0.2,0,0.2,0.4,0.6,0.8,1,1.2,1.4,1.6,1.8,2], "labelExpr": "abs(datum.value - round(datum.value)) < 0.001 ? format(datum.value, 'd') : ''", "tickSize": {"condition": {"test": "abs(datum.value - round(datum.value)) < 0.001", "value": 5}, "value": 2.5}, "title": "ΔTp (mmag)", "titlePadding": 12}}
      }
    },
    {
      "data": {"values": [
{"t":1475.26,"m":-1.26},{"t":1474.55,"m":-1.09},{"t":1471.49,"m":-0.98},{"t":1471.5,"m":-0.88},{"t":1469.15,"m":-0.85},
{"t":1472.43,"m":-0.87},{"t":1475.11,"m":-0.93},{"t":1475.44,"m":-0.96},{"t":1474.87,"m":-0.87},{"t":1476.33,"m":-0.78},
{"t":1475.9,"m":-0.68},{"t":1470.1,"m":-0.69},{"t":1472.92,"m":0.79},{"t":1472.98,"m":0.93},{"t":1469.59,"m":0.82},
{"t":1468.85,"m":0.73},{"t":1474.06,"m":0.79},{"t":1473.73,"m":0.76},{"t":1476.94,"m":0.87},{"t":1471.3,"m":0.78},
{"t":1476.3,"m":0.68},{"t":1481.05,"m":-1.56},{"t":1479.18,"m":-1.07},{"t":1480.56,"m":-0.96},{"t":1481.24,"m":-0.96},
{"t":1482.92,"m":-1.06},{"t":1484.09,"m":-0.98},{"t":1485.08,"m":-0.85},{"t":1486.33,"m":-1.09},{"t":1486.94,"m":-0.93},
{"t":1487.26,"m":-0.96},{"t":1487.8,"m":-1.0},{"t":1489.06,"m":-1.02},{"t":1489.47,"m":-0.87},{"t":1488.93,"m":-0.81},
{"t":1481.78,"m":-0.78},{"t":1483.98,"m":-0.87},{"t":1479.1,"m":1.0},{"t":1480.53,"m":0.96},{"t":1484.3,"m":0.95},
{"t":1486.17,"m":1.06},{"t":1486.71,"m":1.27},{"t":1487.39,"m":0.99},{"t":1489.47,"m":0.99},{"t":1489.83,"m":0.96},
{"t":1486.4,"m":0.95},{"t":1480.8,"m":0.84},{"t":1489.1,"m":0.84},{"t":1480.3,"m":0.8},{"t":1478.77,"m":0.91},
{"t":1485.75,"m":0.84},{"t":1478.3,"m":-0.72},{"t":1482.5,"m":-0.74},{"t":1484.8,"m":0.72},{"t":1483.2,"m":0.7},
{"t":1468.6,"m":-0.66},{"t":1470.7,"m":-0.71},{"t":1473.3,"m":-0.73},{"t":1477.0,"m":0.8},{"t":1479.6,"m":-0.7},
{"t":1481.5,"m":0.7},{"t":1485.3,"m":-0.72},{"t":1488.2,"m":-0.7},{"t":1490.05,"m":0.88},{"t":1468.3,"m":0.62}
      ]},
      "mark": {"type": "square", "size": 7, "color": "black", "opacity": 1},
      "encoding": {
        "x": {"field": "t", "type": "quantitative", "scale": {"domain": [1467.0, 1492.03], "nice": false, "zero": false}, "axis": null},
        "y": {"field": "m", "type": "quantitative", "scale": {"domain": [-2.656, 2.167], "reverse": true, "nice": false, "zero": false}, "axis": null}
      }
    },
    {
      "data": {"values": [{"x": 1468.95, "y": -1.863, "s": "= 5.89"}, {"x": 1485.03, "y": -1.825, "s": "HD43112"}, {"x": 1485.03, "y": 1.662, "s": "Sector(s): 6"}]},
      "mark": {"type": "text", "align": "left", "baseline": "alphabetic", "fontSize": 20},
      "encoding": {
        "x": {"field": "x", "type": "quantitative", "scale": {"domain": [1467.0, 1492.03], "nice": false, "zero": false},
          "axis": {"orient": "top", "values": [1467,1468,1469,1470,1471,1472,1473,1474,1475,1476,1477,1478,1479,1480,1481,1482,1483,1484,1485,1486,1487,1488,1489,1490,1491,1492], "labels": false, "tickSize": {"condition": {"test": "datum.value % 10 === 0", "value": 5}, "value": 2.5}, "title": null}},
        "y": {"field": "y", "type": "quantitative", "scale": {"domain": [-2.656, 2.167], "reverse": true, "nice": false, "zero": false},
          "axis": {"orient": "right", "values": [-2.6,-2.4,-2.2,-2,-1.8,-1.6,-1.4,-1.2,-1,-0.8,-0.6,-0.4,-0.2,0,0.2,0.4,0.6,0.8,1,1.2,1.4,1.6,1.8,2], "labels": false, "tickSize": {"condition": {"test": "abs(datum.value - round(datum.value)) < 0.001", "value": 5}, "value": 2.5}, "title": null}},
        "text": {"field": "s", "type": "nominal"}
      }
    },
    {
      "data": {"values": [{"x": 1467.49, "y": -1.863, "s": "m"}]},
      "mark": {"type": "text", "align": "left", "baseline": "alphabetic", "fontSize": 20, "fontStyle": "italic"},
      "encoding": {
        "x": {"field": "x", "type": "quantitative", "scale": {"domain": [1467.0, 1492.03], "nice": false, "zero": false}, "axis": null},
        "y": {"field": "y", "type": "quantitative", "scale": {"domain": [-2.656, 2.167], "reverse": true, "nice": false, "zero": false}, "axis": null},
        "text": {"field": "s", "type": "nominal"}
      }
    },
    {
      "data": {"values": [{"x": 1468.27, "y": -1.807, "s": "V"}]},
      "mark": {"type": "text", "align": "left", "baseline": "alphabetic", "fontSize": 14},
      "encoding": {
        "x": {"field": "x", "type": "quantitative", "scale": {"domain": [1467.0, 1492.03], "nice": false, "zero": false}, "axis": null},
        "y": {"field": "y", "type": "quantitative", "scale": {"domain": [-2.656, 2.167], "reverse": true, "nice": false, "zero": false}, "axis": null},
        "text": {"field": "s", "type": "nominal"}
      }
    }
  ]
},
{
  "width": 513, "height": 213,
  "layer": [
    {
      "data": {"values": [{"a": 0, "b": 1.67}]},
      "mark": {"type": "rect", "color": "#d3d3d3"},
      "encoding": {
        "x": {"field": "a", "type": "quantitative", "scale": {"domain": [0, 7.515], "nice": false, "zero": false},
          "axis": {"orient": "bottom", "values": [0,0.2,0.4,0.6,0.8,1,1.2,1.4,1.6,1.8,2,2.2,2.4,2.6,2.8,3,3.2,3.4,3.6,3.8,4,4.2,4.4,4.6,4.8,5,5.2,5.4,5.6,5.8,6,6.2,6.4,6.6,6.8,7,7.2,7.4], "labelExpr": "abs(datum.value - round(datum.value)) < 0.001 ? format(datum.value, 'd') : ''", "tickSize": {"condition": {"test": "abs(datum.value - round(datum.value)) < 0.001", "value": 5}, "value": 2.5}, "labelPadding": 6, "title": "Freq. (d⁻¹)", "titlePadding": 3}},
        "x2": {"field": "b"}
      }
    },
    {
      "data": {"values": [
{"f":0.0,"A":0.0042},{"f":0.03,"A":0.0105},{"f":0.073,"A":0.0192},{"f":0.107,"A":0.013},{"f":0.146,"A":0.0251},{"f":0.17,"A":0.009},{"f":0.195,"A":0.0146},{"f":0.219,"A":0.007},{"f":0.248,"A":0.026},{"f":0.273,"A":0.0085},{"f":0.302,"A":0.0366},{"f":0.331,"A":0.004},{"f":0.365,"A":0.0272},{"f":0.395,"A":0.0026},{"f":0.43,"A":0.009},{"f":0.463,"A":0.0166},{"f":0.502,"A":0.005},{"f":0.541,"A":0.0086},{"f":0.575,"A":0.0026},{"f":0.634,"A":0.021},{"f":0.668,"A":0.002},{"f":0.697,"A":0.009},{"f":0.717,"A":0.002},{"f":0.746,"A":0.0066},{"f":0.766,"A":0.002},{"f":0.805,"A":0.0096},{"f":0.853,"A":0.0026},{"f":0.917,"A":0.0107},{"f":0.975,"A":0.0026},{"f":1.039,"A":0.0136},{"f":1.088,"A":0.0058},{"f":1.132,"A":0.0114},{"f":1.171,"A":0.001},{"f":1.21,"A":0.008},{"f":1.254,"A":0.0078},{"f":1.278,"A":0.001},{"f":1.302,"A":0.0069},{"f":1.327,"A":0.004},{"f":1.356,"A":0.0076},{"f":1.375,"A":0.0036},{"f":1.4,"A":0.0076},{"f":1.429,"A":0.0036},{"f":1.46,"A":0.005},{"f":1.488,"A":0.005},{"f":1.561,"A":0.0112},{"f":1.586,"A":0.005},{"f":1.62,"A":0.0086},{"f":1.659,"A":0.0015},{"f":1.683,"A":0.002},{"f":1.742,"A":0.015},{"f":1.815,"A":0.0018},{"f":1.84,"A":0.0046},{"f":1.878,"A":0.0018},{"f":1.922,"A":0.0095},{"f":1.96,"A":0.0074},{"f":1.996,"A":0.0066},{"f":2.025,"A":0.0074},{"f":2.06,"A":0.0094},{"f":2.093,"A":0.0022},{"f":2.137,"A":0.0102},{"f":2.181,"A":0.0042},{"f":2.22,"A":0.005},{"f":2.26,"A":0.0028},{"f":2.318,"A":0.0099},{"f":2.367,"A":0.003},{"f":2.406,"A":0.0059},{"f":2.45,"A":0.0016},{"f":2.523,"A":0.007},{"f":2.62,"A":0.0082},{"f":2.659,"A":0.0018},{"f":2.693,"A":0.0059},{"f":2.727,"A":0.004},{"f":2.757,"A":0.0044},{"f":2.79,"A":0.0008},{"f":2.854,"A":0.0102},{"f":2.893,"A":0.003},{"f":2.942,"A":0.0074},{"f":2.971,"A":0.005},{"f":3.01,"A":0.0102},{"f":3.059,"A":0.0018},{"f":3.108,"A":0.0074},{"f":3.157,"A":0.003},{"f":3.225,"A":0.0064},{"f":3.264,"A":0.0006},{"f":3.323,"A":0.0067},{"f":3.377,"A":0.0006},{"f":3.45,"A":0.0034},{"f":3.5,"A":0.0038},{"f":3.523,"A":0.003},{"f":3.611,"A":0.0067},{"f":3.655,"A":0.0034},{"f":3.694,"A":0.0042},{"f":3.743,"A":0.0044},{"f":3.797,"A":0.0102},{"f":3.841,"A":0.0042},{"f":3.88,"A":0.007},{"f":3.904,"A":0.0042},{"f":3.928,"A":0.0089},{"f":3.962,"A":0.0025},{"f":3.997,"A":0.0062},{"f":4.03,"A":0.004},{"f":4.06,"A":0.0055},{"f":4.09,"A":0.0035},{"f":4.119,"A":0.0089},{"f":4.182,"A":0.003},{"f":4.22,"A":0.005},{"f":4.26,"A":0.003},{"f":4.328,"A":0.0094},{"f":4.377,"A":0.0025},{"f":4.416,"A":0.0054},{"f":4.45,"A":0.0006},{"f":4.499,"A":0.005},{"f":4.548,"A":0.003},{"f":4.611,"A":0.0096},{"f":4.65,"A":0.0013},{"f":4.685,"A":0.0078},{"f":4.719,"A":0.003},{"f":4.753,"A":0.003},{"f":4.792,"A":0.0006},{"f":4.85,"A":0.0043},{"f":4.89,"A":0.0006},{"f":4.929,"A":0.0038},{"f":4.968,"A":0.0032},{"f":4.997,"A":0.0006},{"f":5.036,"A":0.0058},{"f":5.075,"A":0.0013},{"f":5.119,"A":0.007},{"f":5.148,"A":0.0013},{"f":5.192,"A":0.0096},{"f":5.241,"A":0.003},{"f":5.29,"A":0.0067},{"f":5.329,"A":0.0022},{"f":5.387,"A":0.0112},{"f":5.451,"A":0.0013},{"f":5.495,"A":0.005},{"f":5.519,"A":0.0034},{"f":5.548,"A":0.0056},{"f":5.597,"A":0.0022},{"f":5.646,"A":0.005},{"f":5.68,"A":0.0058},{"f":5.719,"A":0.0013},{"f":5.787,"A":0.0075},{"f":5.826,"A":0.003},{"f":5.88,"A":0.0078},{"f":5.924,"A":0.0018},{"f":5.973,"A":0.0054},{"f":6.012,"A":0.005},{"f":6.061,"A":0.001},{"f":6.11,"A":0.0022},{"f":6.158,"A":0.001},{"f":6.217,"A":0.0064},{"f":6.266,"A":0.0022},{"f":6.329,"A":0.0083},{"f":6.363,"A":0.003},{"f":6.393,"A":0.0075},{"f":6.422,"A":0.0042},{"f":6.461,"A":0.0085},{"f":6.5,"A":0.0022},{"f":6.564,"A":0.0066},{"f":6.598,"A":0.0034},{"f":6.627,"A":0.0075},{"f":6.651,"A":0.0054},{"f":6.681,"A":0.008},{"f":6.7,"A":0.0054},{"f":6.734,"A":0.0108},{"f":6.778,"A":0.0022},{"f":6.803,"A":0.0035},{"f":6.842,"A":0.002},{"f":6.89,"A":0.0022},{"f":6.939,"A":0.0025},{"f":6.978,"A":0.005},{"f":7.012,"A":0.0034},{"f":7.046,"A":0.0045},{"f":7.075,"A":0.0038},{"f":7.134,"A":0.0088},{"f":7.183,"A":0.0038},{"f":7.212,"A":0.0066},{"f":7.256,"A":0.003},{"f":7.305,"A":0.0034},{"f":7.378,"A":0.0054},{"f":7.437,"A":0.0006},{"f":7.476,"A":0.0032},{"f":7.515,"A":0.0006}
      ]},
      "mark": {"type": "line", "color": "#111111", "strokeWidth": 1, "interpolate": "monotone"},
      "encoding": {
        "x": {"field": "f", "type": "quantitative", "scale": {"domain": [0, 7.515], "nice": false, "zero": false}, "axis": null},
        "y": {"field": "A", "type": "quantitative", "scale": {"domain": [0, 0.0511], "nice": false, "zero": false},
          "axis": {"orient": "left", "values": [0,0.005,0.01,0.015,0.02,0.025,0.03,0.035,0.04,0.045,0.05], "labelExpr": "abs(datum.value*50 - round(datum.value*50)) < 0.001 ? format(datum.value, '.2f') : ''", "tickSize": {"condition": {"test": "abs(datum.value*50 - round(datum.value*50)) < 0.001", "value": 5}, "value": 2.5}, "title": "Amp. (mmag)", "titlePadding": 11}}
      }
    },
    {
      "data": {"values": [{"f": 0.30, "A0": 0, "A1": 0.038}]},
      "mark": {"type": "rule", "color": "red", "strokeWidth": 1.2, "strokeDash": [6, 2, 1.5, 2]},
      "encoding": {
        "x": {"field": "f", "type": "quantitative", "scale": {"domain": [0, 7.515], "nice": false, "zero": false}, "axis": null},
        "y": {"field": "A0", "type": "quantitative", "scale": {"domain": [0, 0.0511], "nice": false, "zero": false}, "axis": null},
        "y2": {"field": "A1"}
      }
    },
    {
      "data": {"values": [{"f": 0.30, "A": 0.0394}]},
      "mark": {"type": "point", "shape": "cross", "angle": 45, "filled": true, "size": 110, "color": "green", "opacity": 1},
      "encoding": {
        "x": {"field": "f", "type": "quantitative", "scale": {"domain": [0, 7.515], "nice": false, "zero": false}, "axis": null},
        "y": {"field": "A", "type": "quantitative", "scale": {"domain": [0, 0.0511], "nice": false, "zero": false}, "axis": null}
      }
    },
    {
      "data": {"values": [{"x": 5.19, "y": 0.04522, "s": "sin"}, {"x": 5.703, "y": 0.04522, "s": "=7 km s"}, {"x": 4.956, "y": 0.03994, "s": "B1V"}]},
      "mark": {"type": "text", "align": "left", "baseline": "alphabetic", "fontSize": 20},
      "encoding": {
        "x": {"field": "x", "type": "quantitative", "scale": {"domain": [0, 7.515], "nice": false, "zero": false},
          "axis": {"orient": "top", "values": [0,0.2,0.4,0.6,0.8,1,1.2,1.4,1.6,1.8,2,2.2,2.4,2.6,2.8,3,3.2,3.4,3.6,3.8,4,4.2,4.4,4.6,4.8,5,5.2,5.4,5.6,5.8,6,6.2,6.4,6.6,6.8,7,7.2,7.4], "labels": false, "tickSize": {"condition": {"test": "abs(datum.value - round(datum.value)) < 0.001", "value": 5}, "value": 2.5}, "title": null}},
        "y": {"field": "y", "type": "quantitative", "scale": {"domain": [0, 0.0511], "nice": false, "zero": false},
          "axis": {"orient": "right", "values": [0,0.005,0.01,0.015,0.02,0.025,0.03,0.035,0.04,0.045,0.05], "labels": false, "tickSize": {"condition": {"test": "abs(datum.value*50 - round(datum.value*50)) < 0.001", "value": 5}, "value": 2.5}, "title": null}},
        "text": {"field": "s", "type": "nominal"}
      }
    },
    {
      "data": {"values": [{"x": 4.956, "y": 0.04522, "s": "v"}, {"x": 5.608, "y": 0.04522, "s": "i"}]},
      "mark": {"type": "text", "align": "left", "baseline": "alphabetic", "fontSize": 20, "fontStyle": "italic", "fontWeight": "bold"},
      "encoding": {
        "x": {"field": "x", "type": "quantitative", "scale": {"domain": [0, 7.515], "nice": false, "zero": false}, "axis": null},
        "y": {"field": "y", "type": "quantitative", "scale": {"domain": [0, 0.0511], "nice": false, "zero": false}, "axis": null},
        "text": {"field": "s", "type": "nominal"}
      }
    },
    {
      "data": {"values": [{"x": 6.714, "y": 0.04726, "s": "−1"}]},
      "mark": {"type": "text", "align": "left", "baseline": "alphabetic", "fontSize": 15},
      "encoding": {
        "x": {"field": "x", "type": "quantitative", "scale": {"domain": [0, 7.515], "nice": false, "zero": false}, "axis": null},
        "y": {"field": "y", "type": "quantitative", "scale": {"domain": [0, 0.0511], "nice": false, "zero": false}, "axis": null},
        "text": {"field": "s", "type": "nominal"}
      }
    }
  ]
}
]
}
